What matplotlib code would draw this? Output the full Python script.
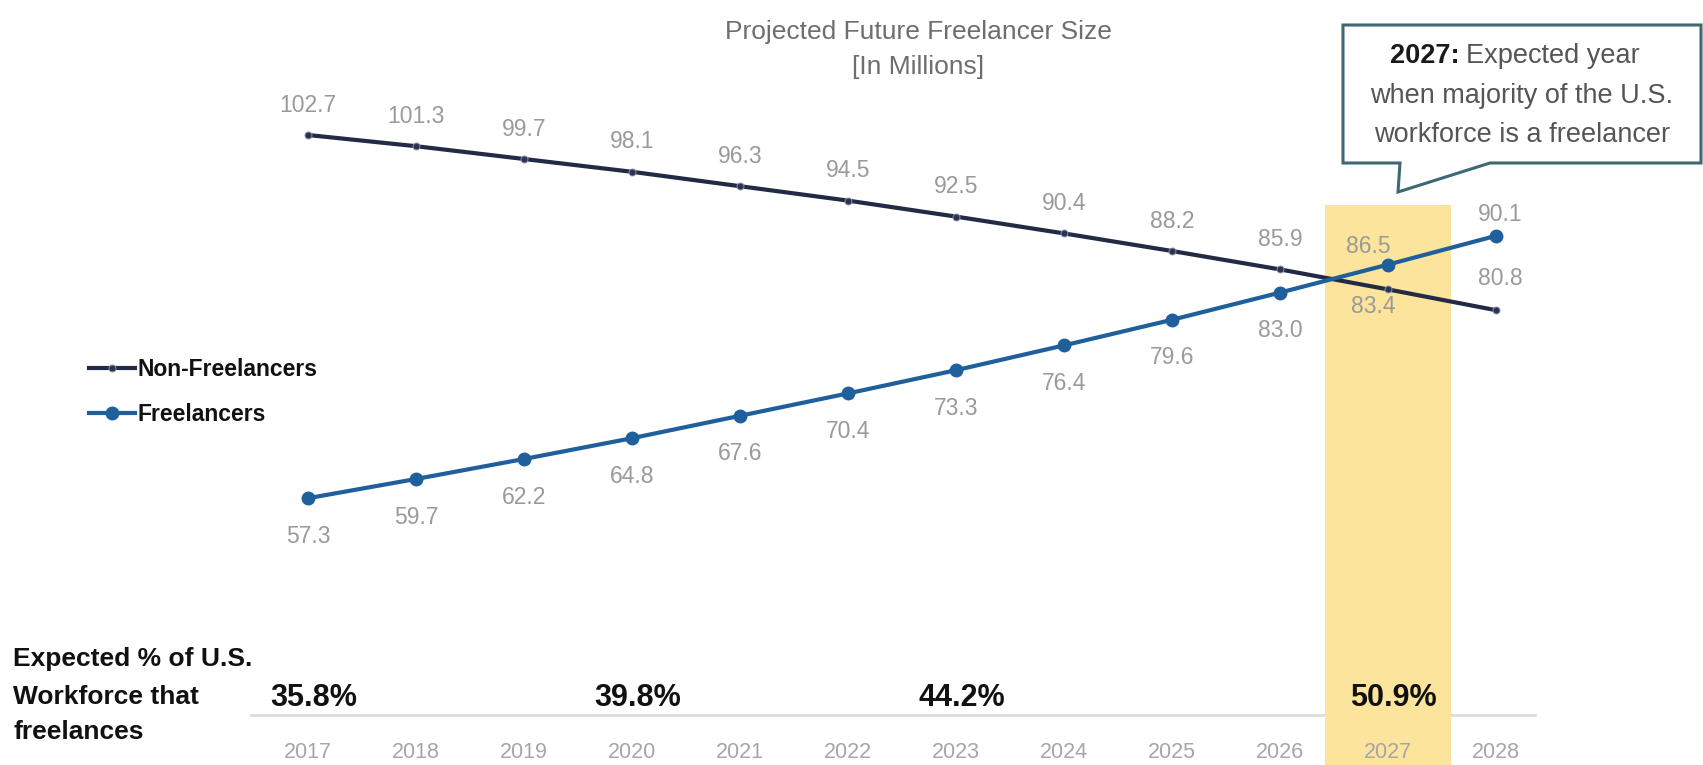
import matplotlib
matplotlib.use('Agg')
import matplotlib.pyplot as plt
from matplotlib.patches import Polygon
from matplotlib.font_manager import FontProperties

years = list(range(2017, 2029))
non_freelancers = [102.7, 101.3, 99.7, 98.1, 96.3, 94.5, 92.5, 90.4, 88.2, 85.9, 83.4, 80.8]
freelancers = [57.3, 59.7, 62.2, 64.8, 67.6, 70.4, 73.3, 76.4, 79.6, 83.0, 86.5, 90.1]
pct_years = [2017, 2020, 2023, 2027]
pct_labels = ['35.8%', '39.8%', '44.2%', '50.9%']
highlight_year = 2027

NARROW = ['Liberation Sans Narrow', 'Liberation Sans', 'DejaVu Sans']
REG = ['Liberation Sans', 'DejaVu Sans']

W, H = 1703, 765
fig = plt.figure(figsize=(W / 100, H / 100), dpi=100)
fig.patch.set_facecolor('white')

# data axes fill the whole figure
ax = fig.add_axes([0, 0, 1, 1])
ax.set_xlim(2014.148, 2029.917)
ax.set_ylim(23.95, 119.575)
ax.axis('off')

# pixel overlay for free text / callout
ov = fig.add_axes([0, 0, 1, 1], zorder=5)
ov.set_xlim(0, W)
ov.set_ylim(H, 0)
ov.axis('off')
ov.patch.set_alpha(0)

xt = ax.get_xaxis_transform()

# highlight band
ax.axvspan(highlight_year - 0.58, highlight_year + 0.58, ymin=0, ymax=0.732,
           color='#fce49c', lw=0, zorder=2)

# baseline under the percentages
ax.plot([years[0] - 0.53, years[-1] + 0.36], [0.065, 0.065], transform=xt,
        color='#dcdcdc', lw=2, zorder=1)

l1, = ax.plot(years, non_freelancers, color='#222a45', lw=3, marker='o',
              markersize=5, markerfacecolor='#2c3352', markeredgecolor='#8a8fa5',
              markeredgewidth=0.7, zorder=4, label='Non-Freelancers')
l2, = ax.plot(years, freelancers, color='#1f5f9c', lw=3, marker='o',
              markersize=9, zorder=4, label='Freelancers')

lab_kw = dict(textcoords='offset pixels', ha='center', va='center',
              color='#9a9a9a', fontsize=16.5, family=REG, zorder=6)
for yr, v in zip(years, non_freelancers):
    if yr == highlight_year:
        off = (-15, -17)
    elif yr > highlight_year:
        off = (4, 32)
    else:
        off = (0, 30)
    ax.annotate(f'{v:.1f}', (yr, v), xytext=off, **lab_kw)
for yr, v in zip(years, freelancers):
    if yr == highlight_year:
        off = (-20, 18)
    elif yr > highlight_year:
        off = (4, 21)
    else:
        off = (0, -38)
    ax.annotate(f'{v:.1f}', (yr, v), xytext=off, **lab_kw)

# year labels and percentages along the bottom
for yr in years:
    ax.text(yr, 0.016, str(yr), transform=xt, ha='center', va='center',
            color='#a6a6a6', fontsize=15.5, family=REG, zorder=6)
for yr, p in zip(pct_years, pct_labels):
    ax.text(yr + 0.05, 0.087, p, transform=xt, ha='center', va='center',
            color='#111111', fontsize=22, fontweight='bold', family=NARROW, zorder=6)

# legend
leg = ax.legend(handles=[l1, l2], loc='center left',
                bbox_to_anchor=(89 / W, 1 - 392 / H), bbox_transform=fig.transFigure,
                frameon=False, handlelength=2.0, handletextpad=0.1,
                labelspacing=0.95, borderaxespad=0, borderpad=0,
                prop=FontProperties(family=NARROW, weight='bold', size=16.5))
for t in leg.get_texts():
    t.set_color('#111111')

# title
ov.text(918, 32, 'Projected Future Freelancer Size', ha='center', va='center',
        color='#6e6e6e', fontsize=19, family=REG)
ov.text(918, 67, '[In Millions]', ha='center', va='center',
        color='#6e6e6e', fontsize=19, family=REG)

# left caption
for yy, s in zip([659, 697, 732], ['Expected % of U.S.', 'Workforce that', 'freelances']):
    ov.text(13, yy, s, ha='left', va='center', color='#111111', fontsize=19,
            fontweight='bold', family=NARROW)

# callout box
callout = Polygon([(1343, 25), (1701, 25), (1701, 163), (1490, 163), (1398, 192),
                   (1400, 163), (1343, 163)], closed=True, facecolor='white',
                  edgecolor='#3e6874', lw=2.2, zorder=3)
ov.add_patch(callout)
ov.text(1460, 56, '2027:', ha='right', va='center', color='#1a1a1a', fontsize=19.5,
        fontweight='bold', family=NARROW, zorder=4)
ov.text(1466, 56, 'Expected year', ha='left', va='center', color='#555555',
        fontsize=19.5, family=REG, zorder=4)
ov.text(1522, 96, 'when majority of the U.S.', ha='center', va='center',
        color='#555555', fontsize=19.5, family=REG, zorder=4)
ov.text(1522, 135, 'workforce is a freelancer', ha='center', va='center',
        color='#555555', fontsize=19.5, family=REG, zorder=4)

fig.savefig('out.png', dpi=100, facecolor='white')
